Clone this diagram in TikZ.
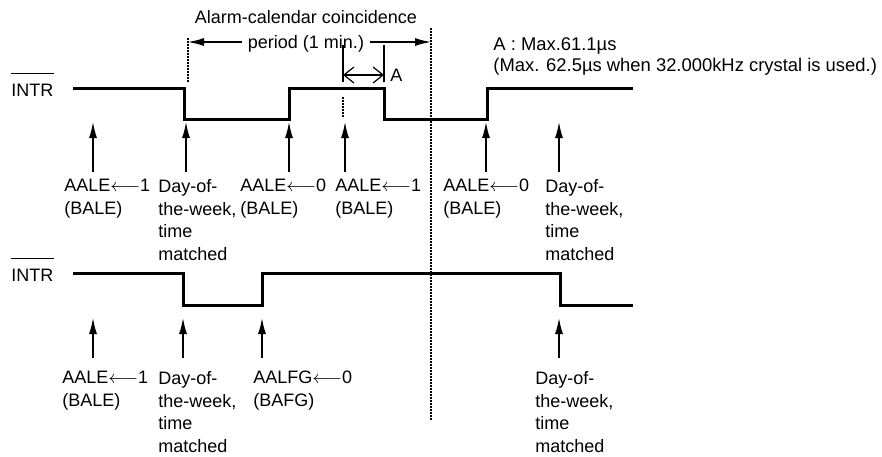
\documentclass[tikz,border=0pt]{standalone}
\usepackage{fontspec}
\setmainfont{Liberation Sans}
\usetikzlibrary{arrows.meta}

\newcommand{\lto}{$\longleftarrow$}

\tikzset{
  wave/.style={line width=1.5pt, line join=miter},
  guide/.style={line width=0.75pt, dash pattern=on 0.75pt off 0.75pt},
  bar/.style={line width=0.75pt},
  cue/.style={line width=0.7pt, -{Latex[length=8pt,width=4pt]}},
  sig/.style={inner sep=0pt, anchor=base west, font=\fontsize{9}{11.35}\selectfont},
  tag/.style={inner sep=0pt, anchor=north west, align=left,
    font=\fontsize{9}{11.35}\selectfont, execute at begin node=\strut},
}

\begin{document}
\begin{tikzpicture}[x=0.5pt,y=-0.5pt]
	%%%%% START %%%%%
	\useasboundingbox (0,0) rectangle (882,456);
	
	% period of coincidence
	\node[anchor=base, inner sep=0pt, font=\fontsize{9}{11}\selectfont] (alarmTxt) at (306,23) {Alarm-calendar coincidence};
	\node[anchor=base, inner xsep=3pt, inner ysep=0pt, font=\fontsize{9}{11}\selectfont] (periodTxt) at (306,48.5) {period (1 min.)};
	\coordinate (dotL) at (188,42);
	\coordinate (dotR) at (431,42);
	\draw[guide] (188,38) -- (188,82);
	\draw[guide] (431,28) -- (431,420);
	\draw[cue] (periodTxt.west |- dotL) -- (dotL);
	\draw[cue] (periodTxt.east |- dotR) -- (dotR);
	
	% A
	\coordinate (aL) at (343,75);
	\coordinate (aR) at (384,75);
	\draw[bar] (343,45) -- (343,82);
	\draw[bar] (384,45) -- (384,82);
	\draw[line width=0.6pt, {Straight Barb[length=5pt,width=8pt]}-{Straight Barb[length=5pt,width=8pt]}] (aL) -- (aR);
	\node[sig, anchor=west] (aTxt) at (390,75) {A};
	\draw[guide] (343,97) -- (343,118);
	\node[tag, font=\fontsize{9.2}{10.5}\selectfont] (maxTxt) at (493,37.3) {A : Max.61.1µs\\(Max. 62.5µs when 32.000kHz crystal is used.)};
	
	% upper INTR
	\node[sig] (intrA) at (11,96.5) {INTR};
	\draw[bar] ([yshift=5pt]intrA.north west) -- ([yshift=5pt]intrA.north east);
	\draw[wave] (73,88) -- (184,88) -- (184,119) -- (289,119) -- (289,88) -- (384,88)
		-- (384,119) -- (487,119) -- (487,88) -- (633,88);
	
	\foreach \x [count=\i] in {93,186,289,345,486,559}{
		\coordinate (upT\i) at (\x,122);
		\coordinate (upB\i) at (\x,172);
		\draw[cue] (upB\i) -- (upT\i);
	}
	
	\node[tag] (aaleA) at (64,179) {AALE\lto1\\(BALE)};
	\node[tag] (dowA) at (158,179) {Day-of-\\the-week,\\time\\matched};
	\node[tag] (aaleB) at (240,179) {AALE\lto0\\(BALE)};
	\node[tag] (aaleC) at (335,179) {AALE\lto1\\(BALE)};
	\node[tag] (aaleD) at (443,179) {AALE\lto0\\(BALE)};
	\node[tag] (dowB) at (545,179) {Day-of-\\the-week,\\time\\matched};
	
	% lower INTR
	\node[sig] (intrB) at (11,281.5) {INTR};
	\draw[bar] ([yshift=5pt]intrB.north west) -- ([yshift=5pt]intrB.north east);
	\draw[wave] (73,273) -- (183,273) -- (183,305) -- (262,305) -- (262,273) -- (560,273)
		-- (560,305) -- (633,305);
	
	\foreach \x [count=\i] in {93,183,262,559}{
		\coordinate (loT\i) at (\x,318);
		\coordinate (loB\i) at (\x,358);
		\draw[cue] (loB\i) -- (loT\i);
	}
	
	\node[tag] (aaleE) at (62,371) {AALE\lto1\\(BALE)};
	\node[tag] (dowC) at (158,371) {Day-of-\\the-week,\\time\\matched};
	\node[tag] (aalfg) at (253,371) {AALFG\lto0\\(BAFG)};
	\node[tag] (dowD) at (535,371) {Day-of-\\the-week,\\time\\matched};
	
	%%%%% END %%%%%
\end{tikzpicture}
\end{document}
